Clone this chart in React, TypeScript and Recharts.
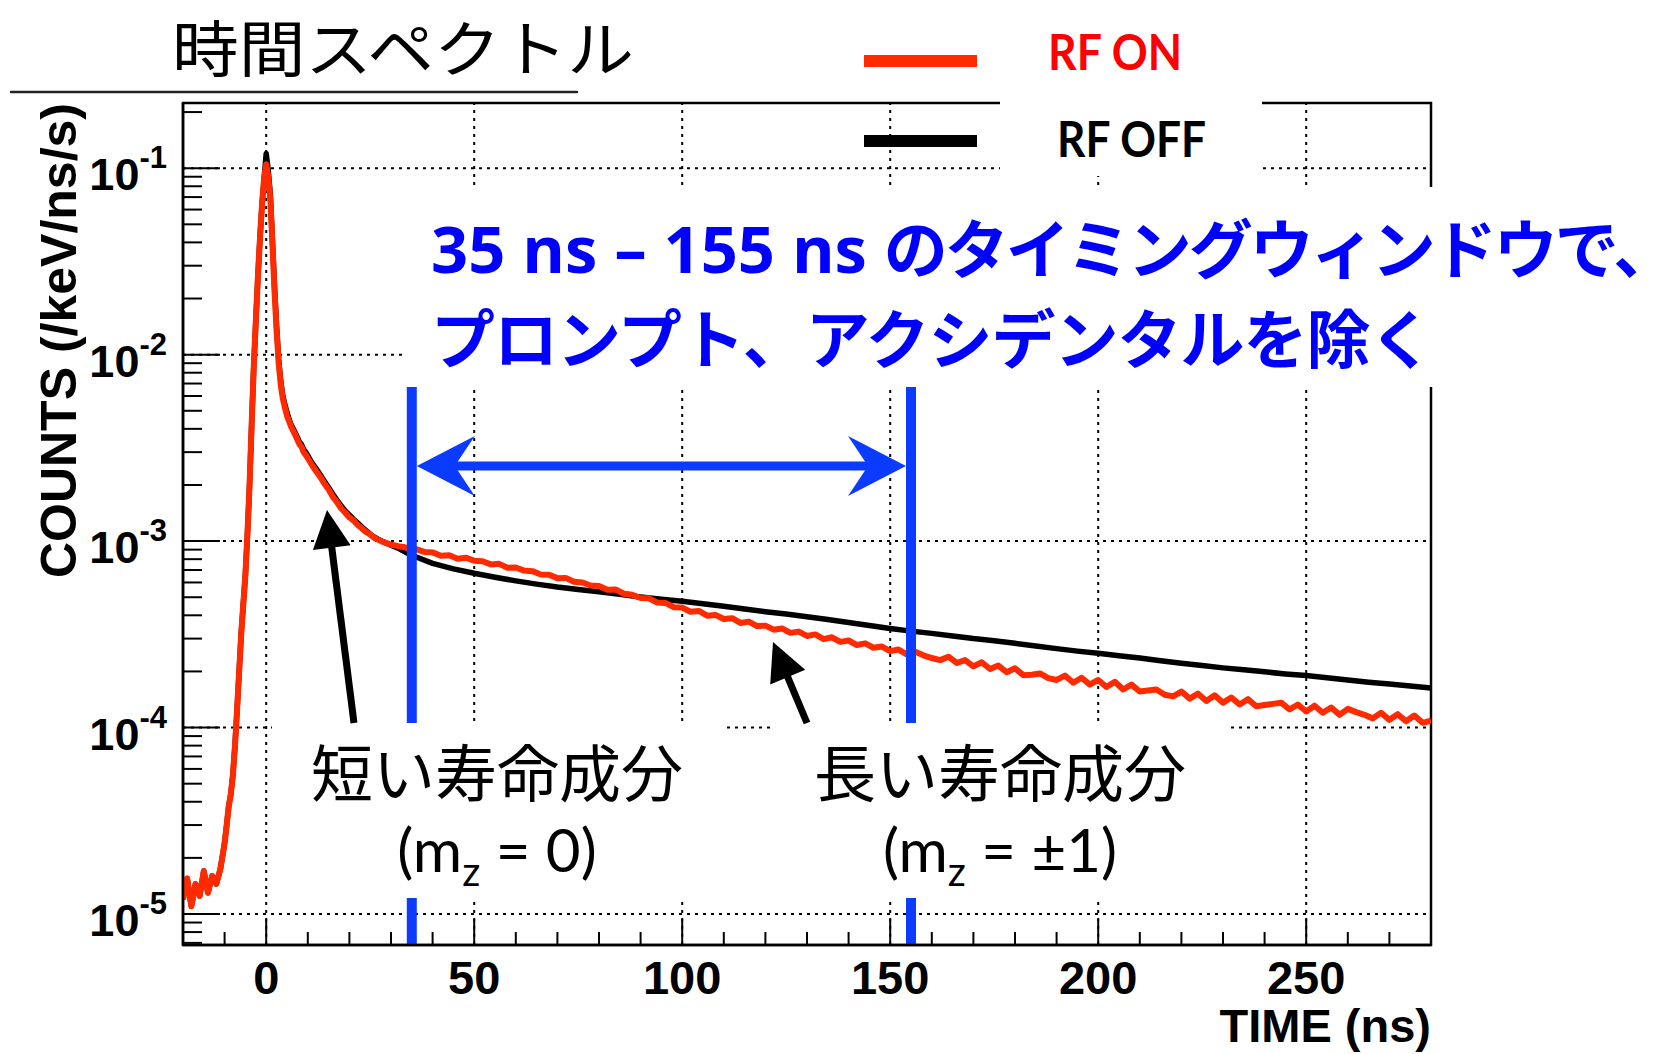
import React from 'react';
import { LineChart, Line, XAxis, YAxis, ReferenceLine, ReferenceArea } from 'recharts';

const W = 1676;
const H = 1054;
// plot frame in page pixels
const PLOT = { left: 183, top: 103, right: 1431, bottom: 945 };
const X_DOMAIN: [number, number] = [-20, 280];
const Y_DOMAIN: [number, number] = [6.82e-6, 0.2237];

// ---- data ----
// flat part before the prompt peak, x 1e-5
const preTimes = [-20, -19, -18, -17, -16, -15, -14, -13, -12, -11, -10];
const rfOnPre = [1.2, 1.55, 1.1, 1.45, 1.25, 1.7, 1.3, 1.6, 1.45, 1.75, 2.4];
const rfOffPre = [1.2, 1.55, 1.1, 1.45, 1.25, 1.7, 1.3, 1.6, 1.45, 1.75, 2.4];

// prompt peak, plain values
const peakTimes = [
  -9.5, -9, -8.5, -8, -7.5, -7, -6.5, -6, -5.5, -5,
  -4.5, -4, -3.5, -3, -2.5, -2, -1.5, -1, -0.5, 0,
  0.5, 1, 1.5, 2, 2.5, 3, 3.5, 4, 4.5, 5,
  5.5, 6, 6.5, 7, 7.5, 8, 8.5, 9, 9.5, 10,
];
const rfOnPeak = [
  3.0e-5, 3.8e-5, 4.4e-5, 5.6e-5, 8.0e-5, 1.25e-4, 2.0e-4, 3.2e-4, 4.6e-4, 6.6e-4,
  1.1e-3, 2.0e-3, 4.2e-3, 8.5e-3, 1.5e-2, 2.6e-2, 4.2e-2, 6.4e-2, 8.8e-2, 0.105,
  0.09, 0.068, 0.039, 0.022, 0.0135, 0.009, 0.0069, 0.0058, 0.0052, 0.0047,
  0.0044, 0.0041, 0.0039, 0.0037, 0.0035, 0.0033, 0.0032, 0.003, 0.0029, 0.00278,
];
const rfOffPeak = [
  3.0e-5, 3.8e-5, 4.4e-5, 5.6e-5, 8.0e-5, 1.25e-4, 2.0e-4, 3.2e-4, 4.6e-4, 6.6e-4,
  1.1e-3, 2.0e-3, 4.2e-3, 8.5e-3, 1.5e-2, 2.6e-2, 4.2e-2, 6.4e-2, 8.8e-2, 0.12,
  0.097, 0.072, 0.041, 0.0232, 0.0141, 0.0094, 0.0072, 0.006, 0.0054, 0.0049,
  0.0045, 0.0042, 0.004, 0.0038, 0.0036, 0.0034, 0.0033, 0.0031, 0.003, 0.00287,
];

// fast decay, x 1e-3
const decayTimes = [11, 12, 13, 14, 15, 16, 17, 18, 19, 20, 21, 22, 23, 24, 25, 26, 27, 28, 29, 30, 31, 32, 33, 34];
const rfOnDecay = [
  2.56, 2.37, 2.21, 2.03, 1.89, 1.73, 1.62, 1.5, 1.42, 1.34, 1.29, 1.22,
  1.17, 1.12, 1.085, 1.04, 1.015, 0.99, 0.975, 0.955, 0.948, 0.935, 0.93, 0.915,
];
const rfOffDecay = [
  2.63, 2.45, 2.27, 2.09, 1.94, 1.79, 1.66, 1.55, 1.45, 1.38, 1.31, 1.25,
  1.19, 1.14, 1.09, 1.05, 1.02, 0.995, 0.97, 0.95, 0.93, 0.91, 0.885, 0.86,
];

// long tail, x 1e-4
const onTailTimes = [
  36, 38, 40, 42, 44, 46, 48, 50, 52, 54,
  56, 58, 60, 62, 64, 66, 68, 70, 72, 74,
  76, 78, 80, 82, 84, 86, 88, 90, 92, 94,
  96, 98, 100, 102, 104, 106, 108, 110, 112, 114,
  116, 118, 120, 122, 124, 126, 128, 130, 132, 134,
  136, 138, 140, 142, 144, 146, 148, 150, 152, 154,
  156, 158, 160, 162, 164, 166, 168, 170, 172, 174,
  176, 178, 180, 182, 184, 186, 188, 190, 192, 194,
  196, 198, 200, 202, 204, 206, 208, 210, 212, 214,
  216, 218, 220, 222, 224, 226, 228, 230, 232, 234,
  236, 238, 240, 242, 244, 246, 248, 250, 252, 254,
  256, 258, 260, 262, 264, 266, 268, 270, 272, 274,
  276, 278, 280,
];
const rfOnTail = [
  9.05, 8.75, 8.7, 8.35, 8.4, 8.05, 8.15, 7.85, 7.8, 7.5,
  7.55, 7.2, 7.22, 6.95, 6.9, 6.62, 6.6, 6.33, 6.35, 6.05,
  6.0, 5.78, 5.75, 5.48, 5.5, 5.22, 5.15, 4.95, 4.93, 4.68,
  4.66, 4.42, 4.4, 4.18, 4.22, 3.98, 4.02, 3.82, 3.86, 3.64,
  3.7, 3.5, 3.52, 3.35, 3.4, 3.22, 3.27, 3.1, 3.16, 2.98,
  3.05, 2.88, 2.93, 2.77, 2.83, 2.68, 2.72, 2.57, 2.62, 2.47,
  2.55, 2.44, 2.36, 2.3, 2.4, 2.22, 2.3, 2.13, 2.24, 2.06,
  2.15, 1.98, 2.08, 1.91, 1.92, 1.95, 1.84, 1.8, 1.9, 1.74,
  1.85, 1.7, 1.8, 1.65, 1.76, 1.6, 1.7, 1.56, 1.58, 1.6,
  1.5, 1.47, 1.56, 1.43, 1.52, 1.39, 1.49, 1.36, 1.45, 1.33,
  1.42, 1.3, 1.32, 1.34, 1.36, 1.25, 1.33, 1.22, 1.31, 1.2,
  1.28, 1.17, 1.26, 1.21, 1.17, 1.12, 1.2, 1.1, 1.18, 1.08,
  1.16, 1.06, 1.09,
];
const offTailTimes = [
  35, 40, 45, 50, 55, 60, 65, 70, 75, 80,
  85, 90, 95, 100, 105, 110, 115, 120, 125, 130,
  135, 140, 145, 150, 155, 160, 165, 170, 175, 180,
  185, 190, 195, 200, 205, 210, 215, 220, 225, 230,
  235, 240, 245, 250, 255, 260, 265, 270, 275, 280,
];
const rfOffTail = [
  8.4, 7.6, 7.1, 6.72, 6.4, 6.12, 5.88, 5.67, 5.5, 5.35,
  5.18, 5.02, 4.88, 4.76, 4.61, 4.47, 4.32, 4.18, 4.06, 3.93,
  3.8, 3.66, 3.53, 3.4, 3.29, 3.2, 3.1, 3.0, 2.92, 2.83,
  2.74, 2.65, 2.57, 2.5, 2.43, 2.36, 2.28, 2.21, 2.15, 2.09,
  2.04, 1.99, 1.94, 1.9, 1.85, 1.8, 1.75, 1.71, 1.67, 1.63,
];

// axis ticks
const xTicks = [-20, -10, 0, 10, 20, 30, 40, 50, 60, 70, 80, 90, 100, 110, 120, 130, 140, 150,
  160, 170, 180, 190, 200, 210, 220, 230, 240, 250, 260, 270, 280];
const xGrid = [0, 50, 100, 150, 200, 250];
const yDecades = [1e-5, 1e-4, 1e-3, 1e-2, 1e-1];
const yTicks = [7e-6, 8e-6, 9e-6];
yDecades.forEach((d) => [1, 2, 3, 4, 5, 6, 7, 8, 9].forEach((m) => {
  const v = d * m;
  if (v <= Y_DOMAIN[1]) yTicks.push(v);
}));

// timing window
const windowStart = 35;
const windowEnd = 155;

const pts = (ts: number[], vs: number[], k = 1) => ts.map((t, i) => ({ t, v: vs[i] * k }));
const rfOnData = [
  ...pts(preTimes, rfOnPre, 1e-5),
  ...pts(peakTimes, rfOnPeak),
  ...pts(decayTimes, rfOnDecay, 1e-3),
  ...pts(onTailTimes, rfOnTail, 1e-4),
];
const rfOffData = [
  ...pts(preTimes, rfOffPre, 1e-5),
  ...pts(peakTimes, rfOffPeak),
  ...pts(decayTimes, rfOffDecay, 1e-3),
  ...pts(offTailTimes, rfOffTail, 1e-4),
];

const ROOT_FONT = '"Liberation Sans", Arial, sans-serif';
const JP_FONT = '"Noto Sans CJK JP", sans-serif';
const RED = '#ff2a00';
const BLUE = '#0b3bff';

// helper for annotation placement (same mapping as the plot)
const xPx = (t: number) => PLOT.left + ((t - X_DOMAIN[0]) * (PLOT.right - PLOT.left)) / (X_DOMAIN[1] - X_DOMAIN[0]);

const YTick = (props: any) => {
  const { x, y, payload } = props;
  const v = payload.value;
  const exp = Math.round(Math.log10(v));
  const major = Math.abs(v - Math.pow(10, exp)) / v < 1e-6;
  return (
    <g>
      <line x1={x} x2={x + (major ? 37 : 19)} y1={y} y2={y} stroke="#000" strokeWidth={2} />
      {major && (
        <text x={x - 16} y={y + 22} textAnchor="end" fontFamily={ROOT_FONT} fontWeight="bold" fontSize={45} fill="#000">
          10<tspan fontSize={31} dy={-22}>{exp}</tspan>
        </text>
      )}
    </g>
  );
};

const XTick = (props: any) => {
  const { x, y, payload } = props;
  const v = payload.value;
  const major = v % 50 === 0;
  return (
    <g>
      <line x1={x} x2={x} y1={y} y2={y - (major ? 26 : 13)} stroke="#000" strokeWidth={2} />
      {major && (
        <text x={x} y={y + 49} textAnchor="middle" fontFamily={ROOT_FONT} fontWeight="bold" fontSize={47} fill="#000">
          {v}
        </text>
      )}
    </g>
  );
};

const Arrow = ({ from, to, head = 38, half = 19, width = 7, color = '#000' }: any) => {
  const dx = to[0] - from[0];
  const dy = to[1] - from[1];
  const len = Math.hypot(dx, dy);
  const ux = dx / len;
  const uy = dy / len;
  const bx = to[0] - ux * head;
  const by = to[1] - uy * head;
  const px = -uy;
  const py = ux;
  return (
    <g>
      <line x1={from[0]} y1={from[1]} x2={bx + ux * 4} y2={by + uy * 4} stroke={color} strokeWidth={width} />
      <polygon points={`${to[0]},${to[1]} ${bx + px * half},${by + py * half} ${bx - px * half},${by - py * half}`} fill={color} />
    </g>
  );
};

const DoubleArrow = ({ x1, x2, y }: any) => {
  const l = x1;
  const r = x2;
  return (
    <g fill={BLUE}>
      <rect x={l + 36} y={y - 4.5} width={r - l - 72} height={9} />
      <polygon points={`${l},${y} ${l + 58},${y - 30} ${l + 38},${y} ${l + 58},${y + 30}`} />
      <polygon points={`${r},${y} ${r - 58},${y - 30} ${r - 38},${y} ${r - 58},${y + 30}`} />
    </g>
  );
};

const Overlay = () => (
  <svg width={W} height={H} style={{ position: 'absolute', left: 0, top: 0, pointerEvents: 'none' }}>
    {/* title */}
    <text x={403} y={72} textAnchor="middle" fontFamily={JP_FONT} fontSize={61} fill="#000" textLength={462} lengthAdjust="spacingAndGlyphs">時間スペクトル</text>
    <line x1={11} y1={92} x2={577} y2={92} stroke="#222" strokeWidth={2.5} strokeLinecap="round" />

    {/* legend */}
    <rect x={1000} y={0} width={262} height={176} fill="#fff" />
    <rect x={864} y={55} width={113} height={12} fill={RED} />
    <rect x={864} y={135} width={113} height={12} fill="#000" />
    <text x={1048} y={70} fontFamily="Lato, sans-serif" fontWeight="bold" fontSize={50} fill="#ff0000" textLength={134} lengthAdjust="spacingAndGlyphs">RF ON</text>
    <text x={1057} y={157} fontFamily="Lato, sans-serif" fontWeight="bold" fontSize={50} fill="#000" textLength={149} lengthAdjust="spacingAndGlyphs">RF OFF</text>

    {/* blue note */}
    <rect x={407} y={187} width={W - 407} height={200} fill="#fff" />
    <text x={431} y={273} fill="#0000ff" fontWeight="bold">
      <tspan fontFamily='"Open Sans", sans-serif' fontSize={65}>35 ns – 155 ns </tspan>
      <tspan fontFamily={JP_FONT} fontSize={64} letterSpacing={-3}>のタイミングウィンドウで、</tspan>
    </text>
    <text x={431} y={363} fill="#0000ff" fontWeight="bold" fontFamily={JP_FONT} fontSize={64} letterSpacing={-1}>
      プロンプト、アクシデンタルを除く
    </text>

    {/* window arrow */}
    <DoubleArrow x1={xPx(windowStart) + 5} x2={xPx(windowEnd) - 5} y={466} />

    {/* component labels */}
    <rect x={272} y={723} width={454} height={175} fill="#fff" />
    <rect x={771} y={723} width={458} height={175} fill="#fff" />
    <text x={497} y={797} textAnchor="middle" fontFamily={JP_FONT} fontSize={62} fill="#000">短い寿命成分</text>
    <text x={497} y={872} textAnchor="middle" fontFamily="Lato, sans-serif" fontSize={60} fill="#000">
      (m<tspan fontSize={40} dy={14}>z</tspan><tspan dy={-14}> = 0)</tspan>
    </text>
    <text x={1000} y={797} textAnchor="middle" fontFamily={JP_FONT} fontSize={62} fill="#000">長い寿命成分</text>
    <text x={1000} y={872} textAnchor="middle" fontFamily="Lato, sans-serif" fontSize={60} fill="#000">
      (m<tspan fontSize={40} dy={14}>z</tspan><tspan dy={-14}> = ±1)</tspan>
    </text>

    <Arrow from={[354, 723]} to={[327, 510]} />
    <Arrow from={[807, 723]} to={[773, 642]} />

    {/* axis titles */}
    <text x={1431} y={1042} textAnchor="end" fontFamily={ROOT_FONT} fontWeight="bold" fontSize={47} fill="#000">TIME (ns)</text>
    <text transform="translate(76,103) rotate(-90)" textAnchor="end" fontFamily={ROOT_FONT} fontWeight="bold" fontSize={50} fill="#000">
      COUNTS (/keV/ns/s)
    </text>
  </svg>
);

export default function App() {
  return (
    <div style={{ position: 'absolute', left: 0, top: 0, width: W, height: H, background: '#fff', overflow: 'hidden' }}>
      <LineChart
        width={W}
        height={H}
        margin={{ top: PLOT.top, right: W - PLOT.right, bottom: H - PLOT.bottom - 60, left: PLOT.left - 100 }}
      >
        <XAxis
          type="number"
          dataKey="t"
          domain={X_DOMAIN}
          allowDataOverflow
          ticks={xTicks}
          interval={0}
          tick={(p: any) => <XTick {...p} />}
          tickLine={false}
          tickSize={0}
          tickMargin={0}
          height={60}
          axisLine={{ stroke: '#000', strokeWidth: 2.5 }}
        />
        <YAxis
          type="number"
          dataKey="v"
          scale="log"
          domain={Y_DOMAIN}
          allowDataOverflow
          ticks={yTicks}
          interval={0}
          tick={(p: any) => <YTick {...p} />}
          tickLine={false}
          tickSize={0}
          tickMargin={0}
          width={100}
          axisLine={{ stroke: '#000', strokeWidth: 2.5 }}
        />
        {xGrid.map((g) => (
          <ReferenceLine key={`gx${g}`} x={g} stroke="#000" strokeWidth={2} strokeDasharray="3 5" />
        ))}
        {yDecades.map((g) => (
          <ReferenceLine key={`gy${g}`} y={g} stroke="#000" strokeWidth={2} strokeDasharray="3 5" />
        ))}
        <ReferenceArea x1={X_DOMAIN[0]} x2={X_DOMAIN[1]} y1={Y_DOMAIN[0]} y2={Y_DOMAIN[1]} fill="none" stroke="#000" strokeWidth={2.5} ifOverflow="visible" />
        <Line data={rfOffData} dataKey="v" type="linear" stroke="#000" strokeWidth={5.5} dot={false} isAnimationActive={false} strokeLinejoin="round" />
        <Line data={rfOnData} dataKey="v" type="linear" stroke={RED} strokeWidth={6} dot={false} isAnimationActive={false} strokeLinejoin="round" />
        <ReferenceLine segment={[{ x: windowStart, y: Y_DOMAIN[0] }, { x: windowStart, y: 6.7e-3 }]} stroke={BLUE} strokeWidth={10} />
        <ReferenceLine segment={[{ x: windowEnd, y: Y_DOMAIN[0] }, { x: windowEnd, y: 6.7e-3 }]} stroke={BLUE} strokeWidth={10} />
      </LineChart>
      <Overlay />
    </div>
  );
}
